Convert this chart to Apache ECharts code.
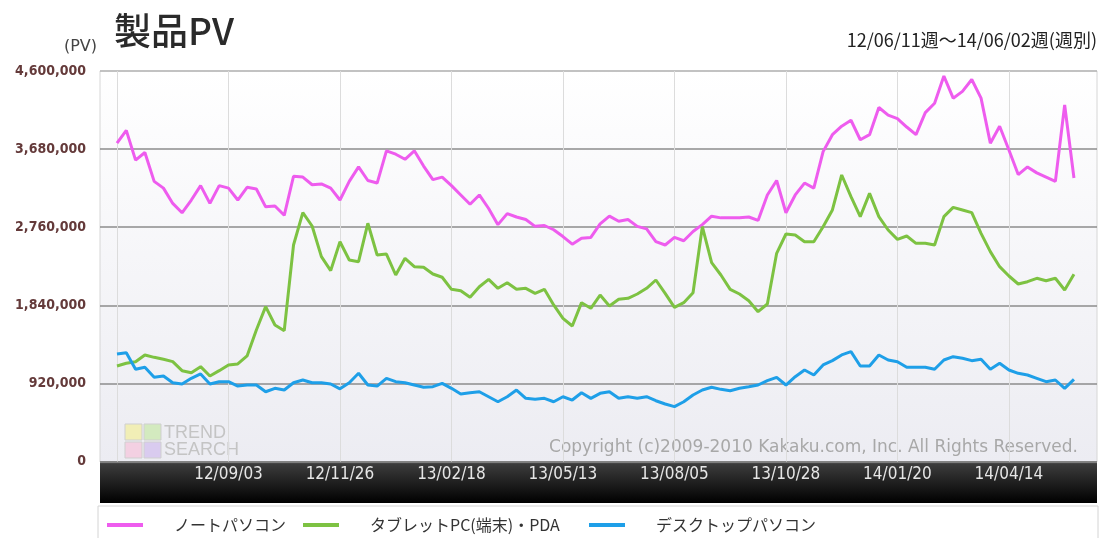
<!DOCTYPE html>
<html>
<head>
<meta charset="utf-8">
<script src="https://cdn.jsdelivr.net/npm/echarts@6/dist/echarts.min.js"></script>
<style>
html,body{margin:0;padding:0;background:#fff;}
#chart{width:1099px;height:538px;}
</style>
</head>
<body>
<div id="chart"></div>
<script>
// weekly PV, 12/06/11 week .. 14/06/02 week (104 weeks)
var noteSeries = [
  3750000,3900000,3550000,3640000,3300000,3220000,3040000,2930000,3080000,3250000,
  3040000,3250000,3220000,3080000,3230000,3210000,3000000,3010000,2900000,3360000,
  3350000,3260000,3270000,3220000,3080000,3300000,3470000,3310000,3280000,3660000,
  3620000,3560000,3660000,3480000,3320000,3350000,3250000,3140000,3030000,3140000,
  2980000,2790000,2920000,2880000,2850000,2770000,2780000,2730000,2650000,2560000,
  2630000,2640000,2800000,2890000,2830000,2850000,2770000,2740000,2590000,2550000,
  2640000,2600000,2710000,2790000,2890000,2870000,2870000,2870000,2880000,2840000,
  3140000,3310000,2930000,3140000,3280000,3220000,3650000,3850000,3950000,4020000,
  3790000,3850000,4170000,4080000,4040000,3940000,3850000,4110000,4220000,4540000,
  4280000,4360000,4500000,4280000,3750000,3950000,3670000,3380000,3470000,3400000,
  3350000,3300000,4200000,3340000
];
var tabletSeries = [
  1125000,1157000,1176000,1255000,1227000,1204000,1176000,1070000,1046000,1117000,
  1007000,1070000,1137000,1149000,1243000,1549000,1824000,1608000,1541000,2550000,
  2931000,2774000,2413000,2248000,2589000,2374000,2354000,2806000,2433000,2444000,
  2197000,2394000,2295000,2288000,2209000,2170000,2028000,2012000,1934000,2059000,
  2146000,2040000,2106000,2028000,2040000,1981000,2028000,1844000,1687000,1596000,
  1871000,1805000,1961000,1832000,1911000,1922000,1973000,2040000,2138000,1981000,
  1816000,1871000,1988000,2766000,2342000,2197000,2028000,1973000,1894000,1765000,
  1855000,2452000,2680000,2668000,2589000,2589000,2766000,2963000,3375000,3120000,
  2884000,3159000,2884000,2727000,2617000,2656000,2570000,2570000,2550000,2884000,
  2994000,2963000,2931000,2688000,2472000,2295000,2185000,2091000,2118000,2158000,
  2130000,2158000,2020000,2205000
];
var desktopSeries = [
  1266000,1282000,1086000,1110000,992000,1007000,928000,913000,980000,1031000,
  913000,940000,940000,889000,901000,901000,822000,862000,842000,928000,
  960000,928000,928000,913000,856000,928000,1039000,901000,889000,980000,
  940000,928000,901000,874000,881000,921000,862000,795000,810000,822000,
  763000,704000,763000,842000,744000,733000,744000,704000,763000,724000,
  810000,744000,803000,822000,744000,763000,744000,763000,716000,677000,
  646000,704000,783000,842000,874000,850000,834000,862000,881000,901000,
  952000,992000,901000,999000,1078000,1019000,1137000,1188000,1255000,1294000,
  1125000,1125000,1255000,1196000,1176000,1110000,1110000,1110000,1086000,1196000,
  1235000,1216000,1188000,1204000,1086000,1157000,1078000,1039000,1019000,980000,
  940000,960000,862000,968000
];
var seriesNames = ['ノートパソコン', 'タブレットPC(端末)・PDA', 'デスクトップパソコン'];
var seriesColors = ['#ee5cee', '#7dc242', '#1e9fe8'];

// x ticks (week index) and their labels
var gridWeeks = [0, 12, 24, 36, 48, 60, 72, 84, 96];
var tickWeeks = [12, 24, 36, 48, 60, 72, 84, 96];
var tickLabels = ['12/09/03', '12/11/26', '13/02/18', '13/05/13', '13/08/05', '13/10/28', '14/01/20', '14/04/14'];

function toPairs(arr){
    return arr.map(function(v, i){ return [i, v]; });
}
function withCommas(v){
    return String(v).replace(/\B(?=(\d{3})+(?!\d))/g, ',');
}

var chart = echarts.init(document.getElementById('chart'));
var jp = '"Noto Sans CJK JP", sans-serif';

var legends = [];
var legendLeft = [107, 303, 589];
for(var k = 0; k < 3; k++){
    legends.push({
        data: [seriesNames[k]],
        left: legendLeft[k],
        top: 517,
        padding: 0,
        icon: 'rect',
        itemWidth: 36,
        itemHeight: 4,
        selectedMode: false,
        textStyle: {fontSize: 16, color: '#333', fontFamily: jp, padding: [0, 0, 0, 26]}
    });
}

var series = [];
var dataSets = [noteSeries, tabletSeries, desktopSeries];
for(var s = 0; s < 3; s++){
    series.push({
        name: seriesNames[s],
        type: 'line',
        data: toPairs(dataSets[s]),
        showSymbol: false,
        symbol: 'none',
        lineStyle: {width: 3, color: seriesColors[s]},
        itemStyle: {color: seriesColors[s]},
        z: 5
    });
}

option = {
    animation: false,
    backgroundColor: '#fff',
    grid: {left: 100, right: 2, top: 71, bottom: 76.5},
    legend: legends,
    xAxis: {
        type: 'value',
        min: -1.83,
        max: 105.48,
        axisLine: {show: false},
        axisTick: {show: false, customValues: gridWeeks},
        axisLabel: {
            customValues: tickWeeks,
            formatter: function(v){ return tickLabels[tickWeeks.indexOf(v)] || ''; },
            color: '#e6e6e6',
            fontSize: 17,
            fontFamily: '"DejaVu Sans Condensed", sans-serif',
            margin: 5
        },
        splitLine: {show: true, lineStyle: {color: '#dcdcdc', width: 1}}
    },
    yAxis: {
        type: 'value',
        min: 0,
        max: 4600000,
        interval: 920000,
        axisLine: {show: false},
        axisTick: {show: false},
        axisLabel: {
            formatter: withCommas,
            color: '#643a3a',
            fontSize: 14,
            fontWeight: 'bold',
            fontFamily: '"DejaVu Sans Condensed", sans-serif',
            margin: 14
        },
        splitLine: {show: true, lineStyle: {color: ['#8c8c8c', '#8c8c8c', '#8c8c8c', '#8c8c8c', '#8c8c8c', '#b4b4b4'], width: 1.5}}
    },
    graphic: [
        {type: 'rect', z: -10, shape: {x: 100, y: 71, width: 997, height: 391},
         style: {fill: {type: 'linear', x: 0, y: 0, x2: 0, y2: 1,
                 colorStops: [{offset: 0, color: '#ffffff'}, {offset: 1, color: '#ececf2'}]},
                 stroke: '#d6d6d6', lineWidth: 1}},
        {type: 'rect', z: -5, shape: {x: 100, y: 461, width: 997, height: 42},
         style: {fill: {type: 'linear', x: 0, y: 0, x2: 0, y2: 1,
                 colorStops: [{offset: 0, color: '#777'}, {offset: 0.07, color: '#3c3c3c'}, {offset: 1, color: '#000'}]}}},
        {type: 'rect', z: -10, shape: {x: 98, y: 506, width: 1000, height: 40},
         style: {fill: '#fff', stroke: '#d4d4d4', lineWidth: 1}},
        // TREND SEARCH watermark
        {type: 'rect', z: -4, shape: {x: 125, y: 424, width: 17, height: 16}, style: {fill: '#f1eeb6', stroke: '#cfcfcf'}},
        {type: 'rect', z: -4, shape: {x: 144, y: 424, width: 17, height: 16}, style: {fill: '#d3eabf', stroke: '#cfcfcf'}},
        {type: 'rect', z: -4, shape: {x: 125, y: 442, width: 17, height: 16}, style: {fill: '#f3d0e2', stroke: '#cfcfcf'}},
        {type: 'rect', z: -4, shape: {x: 144, y: 442, width: 17, height: 16}, style: {fill: '#d9cbef', stroke: '#cfcfcf'}},
        {type: 'text', z: -4, x: 164, y: 433, style: {text: 'TREND', fill: '#c4c4c4', font: '18px "Liberation Sans"', textVerticalAlign: 'middle'}},
        {type: 'text', z: -4, x: 164, y: 450, style: {text: 'SEARCH', fill: '#c4c4c4', font: '18px "Liberation Sans"', textVerticalAlign: 'middle'}},
        {type: 'text', z: -4, x: 1078, y: 448, style: {text: 'Copyright (c)2009-2010 Kakaku.com, Inc. All Rights Reserved.', fill: '#a8a8a8', font: '17px "DejaVu Sans"', textAlign: 'right', textVerticalAlign: 'middle'}},
        // titles
        {type: 'text', x: 114, y: 31, style: {text: '製品PV', fill: '#2a2a2a', font: '500 37px ' + jp, textVerticalAlign: 'middle'}},
        {type: 'text', x: 97, y: 47, style: {text: '(PV)', fill: '#444', font: '16px "DejaVu Sans"', textAlign: 'right', textVerticalAlign: 'middle'}},
        {type: 'text', x: 1097, y: 40, style: {text: '12/06/11週～14/06/02週(週別)', fill: '#222', font: '18px ' + jp, textAlign: 'right', textVerticalAlign: 'middle'}}
    ],
    series: series
};
chart.setOption(option);
</script>
</body>
</html>
